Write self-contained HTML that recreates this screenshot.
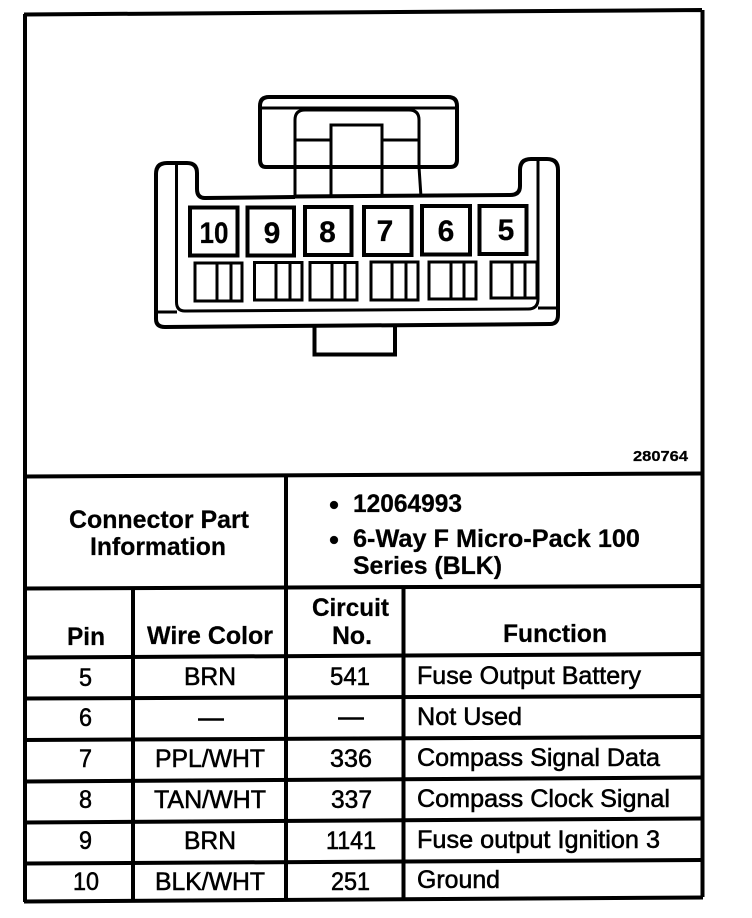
<!DOCTYPE html>
<html><head><meta charset="utf-8"><style>
html,body{margin:0;padding:0;background:#fff;width:752px;height:918px;overflow:hidden}
svg{display:block}
.b{font-family:"Liberation Sans",sans-serif;font-weight:bold;fill:#000;stroke:#000;stroke-width:.25px}
.r{font-family:"Liberation Sans",sans-serif;fill:#000;stroke:#000;stroke-width:.55px}
.l{stroke:#000;stroke-width:3;fill:none}
.t{stroke:#000;stroke-width:4;fill:none}
</style></head><body>
<svg width="752" height="918" viewBox="0 0 752 918" xmlns="http://www.w3.org/2000/svg">
<rect width="752" height="918" fill="#fff"/>
<!-- frame -->
<path class="t" d="M24 14.500L702 10M25 14V902M702.500 10V897"/>
<path class="t" d="M24 476.500L702 473.500M24 588.500L702 586M24 657.500L702 654M24 698.500L702 696M24 740L702 737M24 781.500L702 777.500M24 822.500L702 818.500M24 863.500L702 860M24 901.500L703 897.500"/>
<path class="t" d="M286 476V900M133 588V901M403.500 587V899"/>
<!-- handle -->
<path class="t" d="M269 97H448Q457 97 457 106V160Q457 167 450 167H266Q260 167 260 160V106Q260 97 269 97Z"/>
<path class="l" d="M261 108H456"/>
<path class="l" d="M295 197V120Q295 110 305 110H409Q419 110 419 120V167L421 197"/>
<path class="l" d="M331 195V125H382V195M295 140H331M382 140H419M295 167H420"/>
<!-- body -->
<path class="t" d="M295 197L205 198Q197 198 197 189V173Q197 163 187 163H167Q156 163 156 174V319Q156 327 165 327L550 324Q558 324 558 315V170Q558 159 547 159H531Q520 159 520 170V186Q520 195 510 195L295 196.500"/>
<path class="l" d="M176.500 165V302Q176.500 311 185 311L528 309Q538 309 538 299V161M156 312H177M538 308H558"/>
<!-- number boxes -->
<g class="t">
<rect x="190" y="207.500" width="47.500" height="48"/>
<rect x="247.500" y="207.500" width="46.500" height="48"/>
<rect x="305" y="207" width="46.500" height="48"/>
<rect x="364" y="207" width="47.500" height="48"/>
<rect x="422" y="206" width="48" height="48.500"/>
<rect x="479.500" y="206" width="47" height="48"/>
</g>
<g class="b" font-size="30" text-anchor="middle">
<text x="214" y="243" textLength="29" lengthAdjust="spacingAndGlyphs">10</text>
<text x="272" y="243">9</text>
<text x="327.500" y="242">8</text>
<text x="385" y="241">7</text>
<text x="446" y="241">6</text>
<text x="506" y="240">5</text>
</g>
<!-- small boxes -->
<g class="l">
<path d="M195 263H242V301H195ZM217 263V301M231 263V301"/>
<path d="M254.500 262.500H302V300H254.500ZM276 262.500V300M290 262.500V300"/>
<path d="M310 262.500H357V300H310ZM332 262.500V300M345 262.500V300"/>
<path d="M371 262H418V300H371ZM392 262V300M406 262V300"/>
<path d="M429 262H476V299H429ZM451 262V299M464 262V299"/>
<path d="M491 262H537V298H491ZM512 262V298M525 262V298"/>
</g>
<path class="t" d="M314.500 327V354.500H395V326"/>
<text class="b" x="633" y="461" font-size="15" textLength="55" lengthAdjust="spacingAndGlyphs">280764</text>
<!-- header -->
<g class="b" font-size="25">
<text x="69" y="528" textLength="180" lengthAdjust="spacingAndGlyphs">Connector Part</text>
<text x="90" y="555" textLength="136" lengthAdjust="spacingAndGlyphs">Information</text>
<circle cx="334" cy="505" r="4" />
<text x="353" y="512" textLength="109" lengthAdjust="spacingAndGlyphs">12064993</text>
<circle cx="334" cy="540" r="4" />
<text x="353" y="547" textLength="287" lengthAdjust="spacingAndGlyphs">6-Way F Micro-Pack 100</text>
<text x="353" y="574" textLength="149" lengthAdjust="spacingAndGlyphs">Series (BLK)</text>
<text x="312" y="616" textLength="77" lengthAdjust="spacingAndGlyphs">Circuit</text>
<text x="332" y="644" textLength="40" lengthAdjust="spacingAndGlyphs">No.</text>
<text x="67" y="645" textLength="38" lengthAdjust="spacingAndGlyphs">Pin</text>
<text x="147" y="644" textLength="126" lengthAdjust="spacingAndGlyphs">Wire Color</text>
<text x="503" y="642" textLength="104" lengthAdjust="spacingAndGlyphs">Function</text>
</g>
<!-- rows -->
<g class="r" font-size="25">
<text x="79" y="686" textLength="13" lengthAdjust="spacingAndGlyphs">5</text>
<text x="184" y="685" textLength="52" lengthAdjust="spacingAndGlyphs">BRN</text>
<text x="330" y="685" textLength="40" lengthAdjust="spacingAndGlyphs">541</text>
<text x="417" y="684" textLength="224" lengthAdjust="spacingAndGlyphs">Fuse Output Battery</text>
<text x="79" y="726" textLength="13" lengthAdjust="spacingAndGlyphs">6</text>
<text x="417" y="725" textLength="105" lengthAdjust="spacingAndGlyphs">Not Used</text>
<text x="79" y="767" textLength="13" lengthAdjust="spacingAndGlyphs">7</text>
<text x="155" y="767" textLength="110" lengthAdjust="spacingAndGlyphs">PPL/WHT</text>
<text x="330" y="767" textLength="42" lengthAdjust="spacingAndGlyphs">336</text>
<text x="417" y="766" textLength="243" lengthAdjust="spacingAndGlyphs">Compass Signal Data</text>
<text x="79" y="808" textLength="13" lengthAdjust="spacingAndGlyphs">8</text>
<text x="154" y="808" textLength="112" lengthAdjust="spacingAndGlyphs">TAN/WHT</text>
<text x="331" y="808" textLength="41" lengthAdjust="spacingAndGlyphs">337</text>
<text x="417" y="807" textLength="253" lengthAdjust="spacingAndGlyphs">Compass Clock Signal</text>
<text x="79" y="849" textLength="13" lengthAdjust="spacingAndGlyphs">9</text>
<text x="184" y="849" textLength="52" lengthAdjust="spacingAndGlyphs">BRN</text>
<text x="326" y="849" textLength="50" lengthAdjust="spacingAndGlyphs">1141</text>
<text x="417" y="848" textLength="243" lengthAdjust="spacingAndGlyphs">Fuse output Ignition 3</text>
<text x="73" y="890" textLength="26" lengthAdjust="spacingAndGlyphs">10</text>
<text x="155" y="890" textLength="110" lengthAdjust="spacingAndGlyphs">BLK/WHT</text>
<text x="331" y="890" textLength="39" lengthAdjust="spacingAndGlyphs">251</text>
<text x="417" y="888" textLength="83" lengthAdjust="spacingAndGlyphs">Ground</text>
</g>
<path d="M198 719.500H224M338 718.500H364" stroke="#000" stroke-width="2.500" fill="none"/>
</svg>
</body></html>
